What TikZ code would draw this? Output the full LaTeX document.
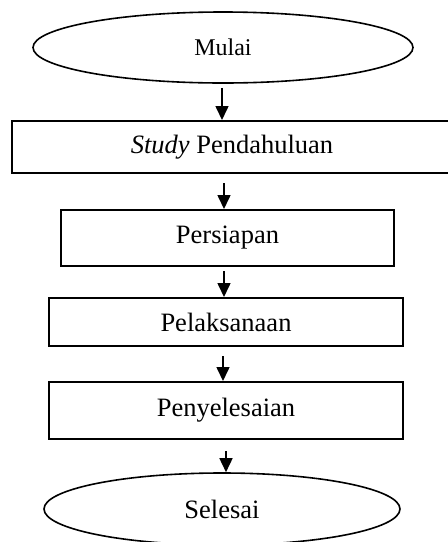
\documentclass[tikz,border=0pt]{standalone}
\usepackage{fontspec}
\setmainfont{Liberation Serif}
\usetikzlibrary{shapes.geometric,arrows.meta}
\begin{document}
\begin{tikzpicture}[x=1pt,y=-1pt,
  stepbox/.style={draw, line width=2pt, rectangle, inner sep=0pt, font=\fontsize{26.5}{30}\selectfont},
  term/.style={draw, line width=1.6pt, ellipse, inner sep=0pt, font=\fontsize{26.5}{30}\selectfont},
  arr/.style={line width=1.6pt, -{Triangle[width=13pt,length=14pt]}}]
\useasboundingbox (0,0) rectangle (448,542);
\node[term, minimum width=380pt, minimum height=71pt, font=\fontsize{24}{28}\selectfont] (m) at (223,47.5) {Mulai};
\node[stepbox, minimum width=440pt, minimum height=52pt] (s) at (232,147) {\textit{Study} Pendahuluan};
\node[stepbox, minimum width=333pt, minimum height=56pt] (p) at (227.5,238) {Persiapan};
\node[stepbox, minimum width=354pt, minimum height=48pt] (l) at (226,322) {Pelaksanaan};
\node[stepbox, minimum width=354pt, minimum height=57pt] (y) at (226,410.5) {Penyelesaian};
\node[term, minimum width=356pt, minimum height=72pt] (e) at (222,509) {Selesai};
\draw[arr] ([xshift=-1pt,yshift=-4pt]m.south) -- ([xshift=-1pt]m.south |- s.north);
\draw[arr] ([xshift=-8pt,yshift=-9pt]s.south) -- ([xshift=-8pt]s.south |- p.north);
\draw[arr] ([xshift=-3.5pt,yshift=-4pt]p.south) -- ([xshift=-3.5pt]p.south |- l.north);
\draw[arr] ([xshift=-3pt,yshift=-9pt]l.south) -- ([xshift=-3pt]l.south |- y.north);
\draw[arr] ([yshift=-11pt]y.south) -- (y.south |- e.north);
\end{tikzpicture}
\end{document}
